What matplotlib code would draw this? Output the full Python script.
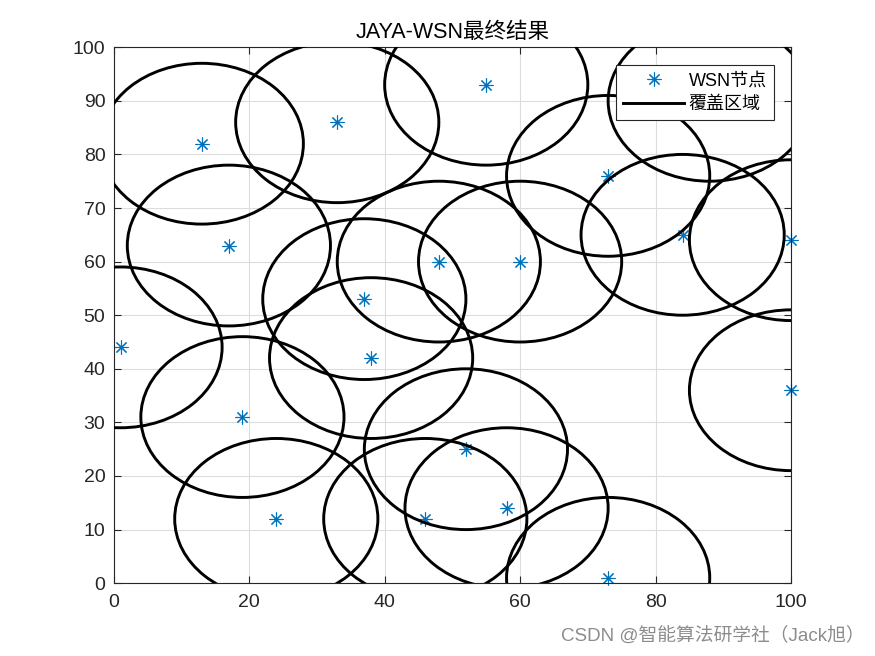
import matplotlib
matplotlib.use('Agg')
import matplotlib.pyplot as plt
from matplotlib.patches import Circle
from matplotlib.lines import Line2D

plt.rcParams['font.family'] = ['Liberation Sans', 'Noto Sans CJK SC', 'DejaVu Sans']

# sensor node positions (x, y) and sensing radius
node_x = [1, 13, 17, 19, 24, 33, 37, 38, 46, 48, 52, 55, 58, 60, 73, 73, 84, 88, 100, 100]
node_y = [44, 82, 63, 31, 12, 86, 53, 42, 12, 60, 25, 93, 14, 60, 76, 1, 65, 90, 64, 36]
radius = 15

fig = plt.figure(figsize=(8.75, 6.56), dpi=100)
ax = fig.add_axes([0.130, 0.111, 0.774, 0.817])

for x, y in zip(node_x, node_y):
    ax.add_patch(Circle((x, y), radius, fill=False, edgecolor='black', linewidth=2.1, zorder=3))

ax.plot(node_x, node_y, linestyle='none', marker=(8, 2, 0), markersize=10,
        markeredgewidth=0.8, color='#0072BD', zorder=2, clip_on=False)

ax.set_xlim(0, 100)
ax.set_ylim(0, 100)
ax.set_xticks(range(0, 101, 20))
ax.set_yticks(range(0, 101, 10))
ax.tick_params(direction='in', top=True, right=True, labelsize=14, length=5,
               color='#262626', labelcolor='#262626')
ax.tick_params(axis='x', pad=8)
ax.tick_params(axis='y', pad=6)
ax.grid(True, color='#dcdcdc', linewidth=0.8)
ax.set_axisbelow(True)
for s in ax.spines.values():
    s.set_color('#262626')
    s.set_linewidth(0.8)

ax.set_title('JAYA-WSN最终结果', fontsize=15.5, pad=7)

handles = [Line2D([], [], linestyle='none', marker=(8, 2, 0), markersize=10, markeredgewidth=0.8, color='#0072BD'),
           Line2D([], [], color='black', linewidth=2.1)]
leg = ax.legend(handles, ['WSN节点', '覆盖区域'], loc='upper right', bbox_to_anchor=(0.975, 0.966),
                fontsize=13, fancybox=False, framealpha=1, edgecolor='#262626',
                borderpad=0.4, borderaxespad=0, handlelength=3.4, handletextpad=0.25,
                labelspacing=0.35)
leg.get_frame().set_linewidth(0.8)
leg.set_zorder(5)

fig.text(0.988, 0.017, 'CSDN @智能算法研学社（Jack旭）', ha='right', va='bottom', fontsize=13.5, color='#8c8c8c')

fig.savefig('out.png', dpi=100)
